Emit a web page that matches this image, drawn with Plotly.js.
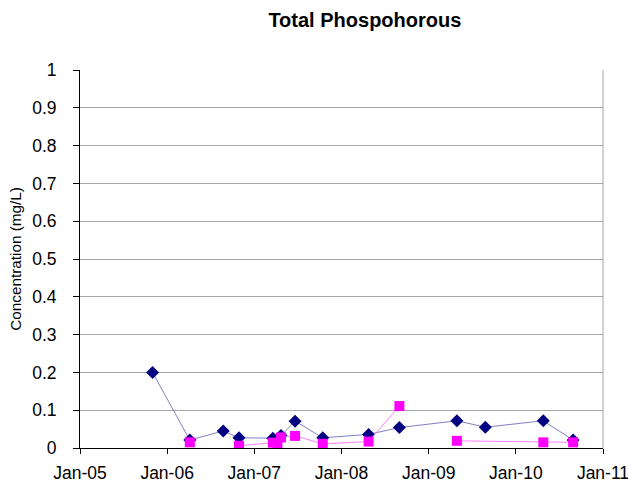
<!DOCTYPE html>
<html>
<head>
<meta charset="utf-8">
<script src="https://cdn.plot.ly/plotly-3.0.1.min.js"></script>
<style>html,body{margin:0;padding:0;background:#fff;}#chart{width:628px;height:489px;}</style>
</head>
<body>
<div id="chart"></div>
<script>
// Series 1 (navy diamonds)
const datesA = ['2005-11-01','2006-04-06','2006-08-24','2006-10-29','2007-03-20','2007-04-23','2007-06-21','2007-10-15','2008-04-24','2008-08-31','2009-04-29','2009-08-26','2010-04-26','2010-08-29'];
const valuesA = [0.200,0.021,0.045,0.027,0.026,0.033,0.071,0.027,0.036,0.054,0.072,0.055,0.072,0.021];
// Series 2 (magenta squares); null entries are gaps in the line
const datesB = ['2006-04-06','2006-08-24','2006-10-29','2007-03-20','2007-04-08','2007-04-23','2007-06-21','2007-10-15','2008-04-24','2008-08-31','2008-12-15','2009-04-29','2010-04-26','2010-08-29'];
const valuesB = [0.015,null,0.006,0.014,0.007,0.028,0.032,0.011,0.017,0.111,null,0.019,0.015,0.015];
const xTickVals = ['2005-01-01','2006-01-01','2007-01-01','2008-01-01','2009-01-01','2010-01-01','2011-01-01'];
const xTickText = ['Jan-05','Jan-06','Jan-07','Jan-08','Jan-09','Jan-10','Jan-11'];

const fontFam = '"Liberation Sans", Arial, sans-serif';
const traces = [
  {x: datesA, y: valuesA, type: 'scatter', mode: 'lines+markers',
   line: {color: '#8080c8', width: 1},
   marker: {symbol: 'diamond', color: '#000080', size: 10}},
  {x: datesB, y: valuesB, type: 'scatter', mode: 'lines+markers',
   line: {color: '#ff80ff', width: 1}, connectgaps: false,
   marker: {symbol: 'square', color: '#ff00ff', size: 10}}
];
const layout = {
  width: 628, height: 489,
  margin: {l: 80, r: 25, t: 70, b: 41},
  paper_bgcolor: '#fff', plot_bgcolor: '#fff',
  showlegend: false,
  font: {family: fontFam, color: '#000', size: 17},
  title: {text: '<b>Total Phospohorous</b>', font: {family: fontFam, size: 20, color: '#000'},
          xref: 'container', x: 0.581, xanchor: 'center', yref: 'container', y: 0.959, yanchor: 'middle'},
  xaxis: {type: 'date', range: ['2005-01-01','2011-01-01'],
          tickvals: xTickVals, ticktext: xTickText, ticklabeloverflow: 'allow',
          showgrid: false, showline: true, linecolor: '#000', linewidth: 1,
          ticks: 'outside', ticklen: 5, tickcolor: '#000', ticklabelstandoff: 4,
          tickfont: {size: 17.5, family: fontFam}, zeroline: false, mirror: false},
  yaxis: {range: [0, 1], dtick: 0.1, tick0: 0,
          showgrid: true, gridcolor: '#a6a6a6', gridwidth: 1,
          showline: true, linecolor: '#000', linewidth: 1,
          ticks: 'outside', ticklen: 6, tickcolor: '#000', ticklabelstandoff: 13,
          tickfont: {size: 17.5, family: fontFam}, zeroline: false,
          title: {text: 'Concentration (mg/L)', font: {size: 15.3, family: fontFam}, standoff: 6}},
  shapes: [
    {type: 'line', xref: 'paper', yref: 'paper', x0: 1, x1: 1, y0: 0, y1: 1, line: {color: '#a6a6a6', width: 1}}
  ]
};
Plotly.newPlot('chart', traces, layout, {displayModeBar: false, staticPlot: true});
</script>
</body>
</html>
